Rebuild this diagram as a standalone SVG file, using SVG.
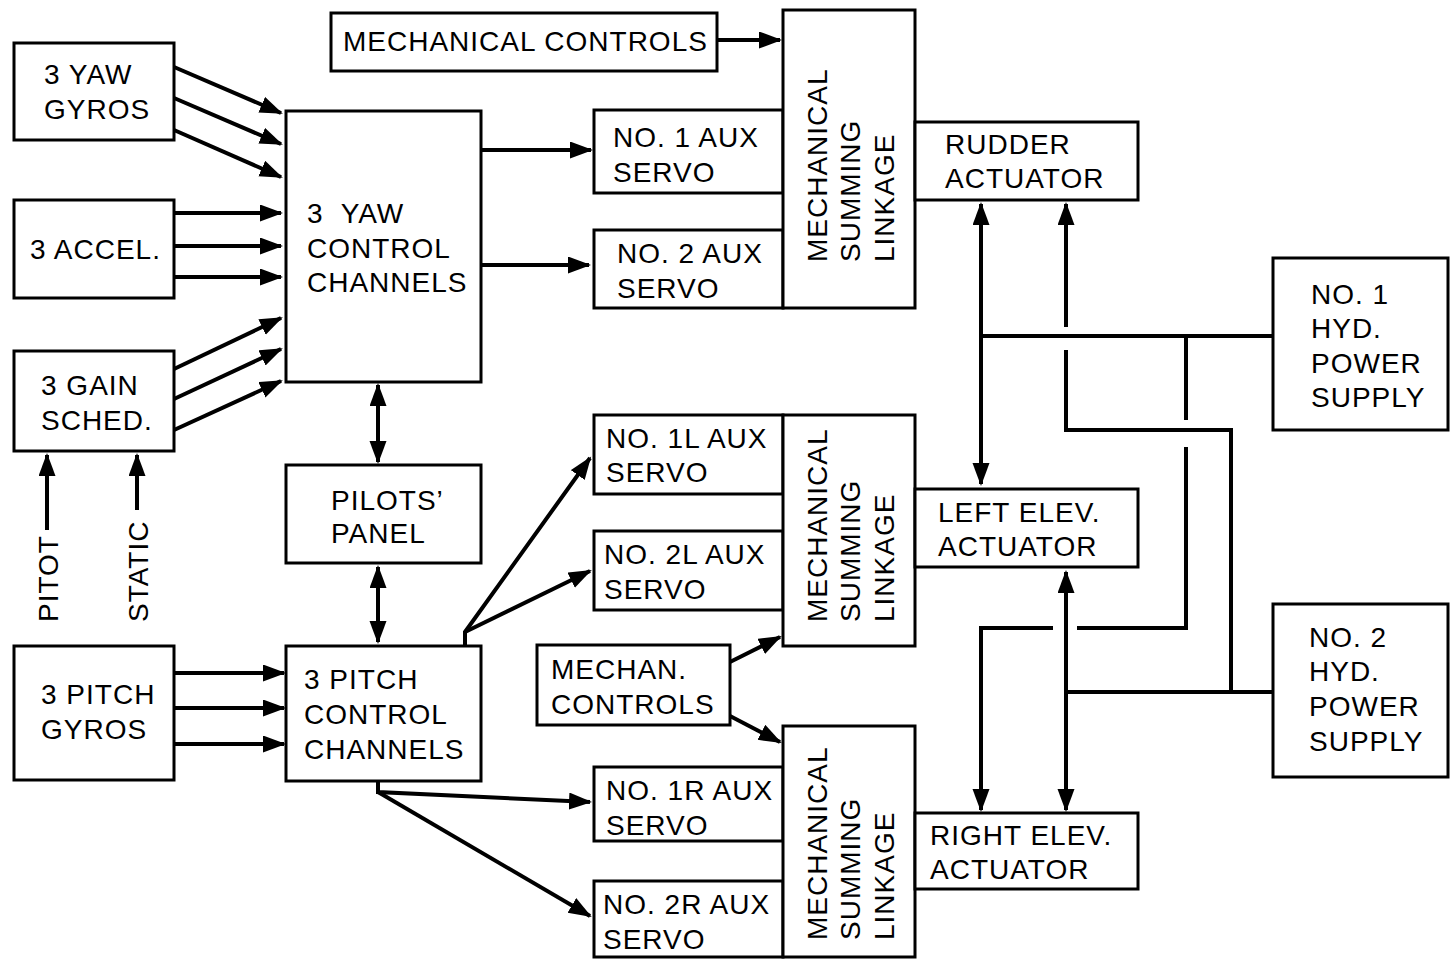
<svg xmlns="http://www.w3.org/2000/svg" width="1454" height="965" viewBox="0 0 1454 965">
<style>
.box{fill:#fff;stroke:#000;stroke-width:3}
.t{font-family:"Liberation Sans",Arial,sans-serif;font-size:28px;letter-spacing:1px;fill:#000}
.c{fill:none;stroke:#000;stroke-width:4;stroke-linejoin:miter}
.a{marker-end:url(#ah)}
.d{marker-start:url(#ah);marker-end:url(#ah)}
</style>
<defs>
<marker id="ah" markerUnits="userSpaceOnUse" markerWidth="24" markerHeight="18" refX="21" refY="8.5" orient="auto-start-reverse" viewBox="0 0 24 18">
<path d="M0,0 L23,8.5 L0,17 z" fill="#000"/>
</marker>
</defs>
<rect width="1454" height="965" fill="#fff"/>

<g id="yaw-gyros"><rect class="box" x="14" y="43" width="160" height="97"/><text class="t" x="44" y="84">3 YAW</text><text class="t" x="44" y="119">GYROS</text></g>
<g id="accel"><rect class="box" x="14" y="200" width="160" height="98"/><text class="t" x="30" y="259">3 ACCEL.</text></g>
<g id="gain-sched"><rect class="box" x="14" y="351" width="160" height="100"/><text class="t" x="41" y="395">3 GAIN</text><text class="t" x="41" y="430">SCHED.</text></g>
<g id="pitot"><text class="t" transform="translate(58,622) rotate(-90)">PITOT</text></g>
<g id="static"><text class="t" transform="translate(148,622) rotate(-90)">STATIC</text></g>
<g id="pitch-gyros"><rect class="box" x="14" y="646" width="160" height="134"/><text class="t" x="41" y="704">3 PITCH</text><text class="t" x="41" y="739">GYROS</text></g>

<g id="yaw-channels"><rect class="box" x="286" y="111" width="195" height="271"/><text class="t" x="307" y="223" xml:space="preserve">3  YAW</text><text class="t" x="307" y="258">CONTROL</text><text class="t" x="307" y="292">CHANNELS</text></g>
<g id="pilots-panel"><rect class="box" x="286" y="465" width="195" height="98"/><text class="t" x="331" y="510">PILOTS’</text><text class="t" x="331" y="543">PANEL</text></g>
<g id="pitch-channels"><rect class="box" x="286" y="646" width="195" height="135"/><text class="t" x="304" y="689">3 PITCH</text><text class="t" x="304" y="724">CONTROL</text><text class="t" x="304" y="759">CHANNELS</text></g>

<g id="mech-controls"><rect class="box" x="331" y="13" width="386" height="58"/><text class="t" x="343" y="51">MECHANICAL CONTROLS</text></g>
<g id="aux1"><rect class="box" x="594" y="110" width="189" height="83"/><text class="t" x="613" y="147">NO. 1 AUX</text><text class="t" x="613" y="182">SERVO</text></g>
<g id="aux2"><rect class="box" x="594" y="230" width="189" height="78"/><text class="t" x="617" y="263">NO. 2 AUX</text><text class="t" x="617" y="298">SERVO</text></g>
<g id="msl-top"><rect class="box" x="783" y="10" width="132" height="298"/><text class="t" transform="translate(827,262) rotate(-90)">MECHANICAL</text><text class="t" transform="translate(860,262) rotate(-90)">SUMMING</text><text class="t" transform="translate(894,262) rotate(-90)">LINKAGE</text></g>
<g id="rudder"><rect class="box" x="915" y="122" width="223" height="78"/><text class="t" x="945" y="154">RUDDER</text><text class="t" x="945" y="188">ACTUATOR</text></g>

<g id="aux1l"><rect class="box" x="594" y="415" width="189" height="79"/><text class="t" x="606" y="448">NO. 1L AUX</text><text class="t" x="606" y="482">SERVO</text></g>
<g id="aux2l"><rect class="box" x="594" y="531" width="189" height="79"/><text class="t" x="604" y="564">NO. 2L AUX</text><text class="t" x="604" y="599">SERVO</text></g>
<g id="msl-mid"><rect class="box" x="783" y="415" width="132" height="231"/><text class="t" transform="translate(827,622) rotate(-90)">MECHANICAL</text><text class="t" transform="translate(860,622) rotate(-90)">SUMMING</text><text class="t" transform="translate(894,622) rotate(-90)">LINKAGE</text></g>
<g id="left-elev"><rect class="box" x="915" y="489" width="223" height="78"/><text class="t" x="938" y="522">LEFT ELEV.</text><text class="t" x="938" y="556">ACTUATOR</text></g>

<g id="mechan-controls"><rect class="box" x="537" y="645" width="193" height="80"/><text class="t" x="551" y="679">MECHAN.</text><text class="t" x="551" y="714">CONTROLS</text></g>

<g id="aux1r"><rect class="box" x="594" y="767" width="189" height="74"/><text class="t" x="606" y="800">NO. 1R AUX</text><text class="t" x="606" y="835">SERVO</text></g>
<g id="aux2r"><rect class="box" x="594" y="881" width="189" height="76"/><text class="t" x="603" y="914">NO. 2R AUX</text><text class="t" x="603" y="949">SERVO</text></g>
<g id="msl-bot"><rect class="box" x="783" y="726" width="132" height="231"/><text class="t" transform="translate(827,940) rotate(-90)">MECHANICAL</text><text class="t" transform="translate(860,940) rotate(-90)">SUMMING</text><text class="t" transform="translate(894,940) rotate(-90)">LINKAGE</text></g>
<g id="right-elev"><rect class="box" x="915" y="813" width="223" height="76"/><text class="t" x="930" y="845">RIGHT ELEV.</text><text class="t" x="930" y="879">ACTUATOR</text></g>

<g id="hyd1"><rect class="box" x="1273" y="258" width="175" height="172"/><text class="t" x="1311" y="304">NO. 1</text><text class="t" x="1311" y="338">HYD.</text><text class="t" x="1311" y="373">POWER</text><text class="t" x="1311" y="407">SUPPLY</text></g>
<g id="hyd2"><rect class="box" x="1273" y="604" width="175" height="173"/><text class="t" x="1309" y="647">NO. 2</text><text class="t" x="1309" y="681">HYD.</text><text class="t" x="1309" y="716">POWER</text><text class="t" x="1309" y="751">SUPPLY</text></g>

<g id="connectors">
<line class="c a" x1="174" y1="67" x2="281" y2="113"/>
<line class="c a" x1="174" y1="98" x2="281" y2="144"/>
<line class="c a" x1="174" y1="130" x2="281" y2="177"/>
<line class="c a" x1="174" y1="213" x2="281" y2="213"/>
<line class="c a" x1="174" y1="246" x2="281" y2="246"/>
<line class="c a" x1="174" y1="277" x2="281" y2="277"/>
<line class="c a" x1="174" y1="369" x2="281" y2="318"/>
<line class="c a" x1="174" y1="399" x2="281" y2="349"/>
<line class="c a" x1="174" y1="430" x2="281" y2="381"/>
<line class="c a" x1="47" y1="530" x2="47" y2="455"/>
<line class="c a" x1="137" y1="510" x2="137" y2="455"/>
<line class="c a" x1="174" y1="673" x2="284" y2="673"/>
<line class="c a" x1="174" y1="708" x2="284" y2="708"/>
<line class="c a" x1="174" y1="744" x2="284" y2="744"/>
<line class="c a" x1="481" y1="150" x2="591" y2="150"/>
<line class="c a" x1="481" y1="265" x2="589" y2="265"/>
<line class="c a" x1="717" y1="40" x2="780" y2="40"/>
<line class="c d" x1="378" y1="385" x2="378" y2="462"/>
<line class="c d" x1="378" y1="567" x2="378" y2="642"/>
<path class="c a" d="M465,646 V632 L590,458"/>
<path class="c a" d="M465,632 L590,571"/>
<path class="c a" d="M378,781 V792 L590,802"/>
<path class="c a" d="M378,792 L590,916"/>
<line class="c a" x1="730" y1="662" x2="780" y2="637"/>
<line class="c a" x1="730" y1="716" x2="780" y2="742"/>
<line class="c d" x1="981" y1="204" x2="981" y2="484"/>
<line class="c a" x1="1066" y1="327" x2="1066" y2="204"/>
<path class="c" d="M981,336 H1273"/>
<path class="c" d="M1186,336 V420"/>
<path class="c" d="M1186,447 V628 H1077"/>
<path class="c a" d="M1053,628 H981 V810"/>
<path class="c" d="M1066,350 V430 H1231 V692"/>
<path class="c" d="M1066,692 H1273"/>
<line class="c d" x1="1066" y1="572" x2="1066" y2="810"/>
</g>
</svg>
